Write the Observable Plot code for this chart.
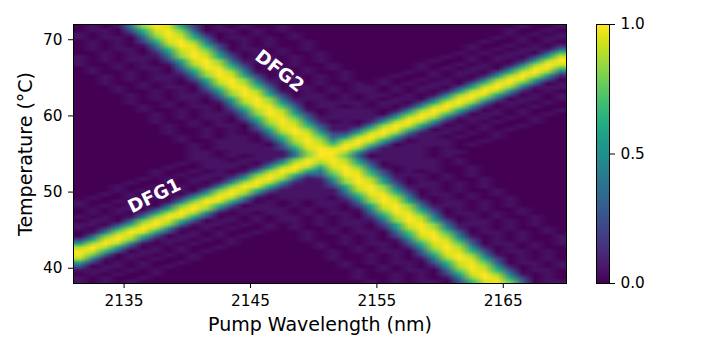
<!DOCTYPE html>
<html>
<head>
<meta charset="utf-8">
<script src="https://cdn.jsdelivr.net/npm/d3@7"></script>
<script src="https://cdn.jsdelivr.net/npm/@observablehq/plot@0.6"></script>
<style>
html,body{margin:0;padding:0;background:#fff}
#chart{position:relative;width:706px;height:353px}
#chart svg{position:absolute;left:0;top:0}
</style>
</head>
<body>
<div id="chart"></div>
<script>
const wavelengthTicks = [2135, 2145, 2155, 2165];
const temperatureTicks = [40, 50, 60, 70];
const colorTicks = [0, 0.5, 1];
const wavelengthExtent = [2131, 2170];
const temperatureExtent = [38, 72];
const labelNames = ["DFG1", "DFG2"];
const labelWavelengths = [2137.4, 2147.3];
const labelTemperatures = [49.5, 65.9];
const labelAngles = [-26, 38];
// Normalised intensity: one row per 0.5 degC (top down),
// one character per 1 nm, base-21 digits that index intensityLevels.
const intensityLevels = [0, .05, .1, .15, .2, .25, .3, .35, .4, .45, .5, .55, .6, .65, .71, .77, .83, .88, .94, .98, 1];
const intensityRows = [
"01018gkic401010010 0000000000000000 01001",
"01105dijf601101010 0000000000000000 10010",
"10102ahkha201010010 00000000000000 010101",
"101106fjid501101010 0000000000000 0101011",
"010104cikg810101001 000000000000 01001010",
"0101018gkic401010010 00000000000 10010102",
"0101105dijf601101010 0000000000 010101117",
"0010102ahkha201010010 00000000 010101106e",
"10101117gkic401101010 0000000 010101104ci",
"10101104cikg711101010 0000000 10010102ahk",
"100101019hkhb301010010 00000 100101018gki",
"010101106ejje601101010 0000 010101106ejje",
"010010103bhkh910101001 000 010101104cikg7",
"0010101117gkic401101010 00 10010102ahkha2",
"0010101104cikg711101010 0 100101018gkic40",
"00100101019hkhb301010010 10101106ejje601",
"00010101106ejje6011010 11 0101104cikg7111",
"00010010103bh kh9101010 11 010102ahkha2010",
"000010101117gk ic40110 1011 01018gk ic40101",
"000010101104ci kg7111 01010 1106ej je601101",
"0000100101019hk hb30 1111011 04ci kg7111010",
"0000010101106ej je60 1101010 2ahk ha2010100",
"0000010010103bh kh9 10111101 8gk ic40101001",
"00000010101117gk ic4 011110 6ej je601101010",
"00000010101105di jf6 11111 4ci kg711101010 0",
"00000010010102ahk ha2 010 2ahk ha201010010 0",
"000000010101106fj id5 111 8gk ic401010010 00",
"000000010010104ci kg8 11 6ej je6 01101010 000",
"0000000100101018gk ic44ci kg711101010 0000",
"0000000 01010110 5dijf6ahk ha211 010010 0000",
"00000000 1001110 2ahkhagkic4 01110010 00000",
"00000000 01011110 6fjiejje6 01111010 000000",
"00000000 01011111 4cikikg7 11110100 0000000",
"000000000 11011111 8gkkha2 11110110 0000000",
"000000000 11010111 8gkjf6 01111010 00000000",
"00000000 01110111 6fjikha2 11111010 0000000",
"0000000 01011110 4cikgjid5 01111010 0000000",
"0000000 1001110 2ahkhcikg8 10111001 0000000",
"000000 10010101 8gkic8gkic4 01010010 000000",
"00000 01010111 6fjid56ejje6 11101010 000000",
"0000 01010110 4cikg712ahkha2 01010010 00000",
"0000 1001010 2ahkha2117gkic4 01101010 00000",
"000 10010101 8gkic41114cikg7 11101010 00000",
"00 01010110 6fjid5 11111 9hkhb3 01010010 0000",
"0 01010110 4cikg7 111111 6ejje6 01101010 0000",
"01001010 3bhkh9 1011110 3bhkh9 10101001 0000",
"10010101 8gkic4 01010111 7gkic4 01101010 000",
"1010110 6fjid5 011010110 4cikg7 11101010 000",
"0101104ci kg7111 11010 1019hk hb301010010 00",
"010103bh kh91010 1101 01106ej je601101010 00",
"101018gk ic40101 0110 10103bh kh910101001 00",
"01106fj id5011010 11 0101117gk ic401101010 0",
"1104ci kg71110101 0 1010110 4ci kg711101010 0",
"103bh kh910101001 0 10010102ahk ha201010010",
"018gk ic401010010 0 010101106ej je601101010",
"06fj id501101010 00 010010104ci kg810101001",
"4ci kg711101010 0000 100101018gk ic40101001",
"bh kh910101001 00000 010101105di jf60110101",
"hk hb301010010 000000 10010102ahk ha2010100",
"j id501101010 0000000 010101106fj id5011010",
"jf601101010 00000000 010010104ci kg8101010",
"h910101001 0000000000 100101018gk ic401010",
"b30101001 00000000000 010101105di jf601101",
"50110101 0000000000000 10010102ahk ha20101",
"1110101 00000000000000 010101106fj id50110",
"0101001 00000000000000 010010104ci kg81010",
"101001 0000000000000000 100101018gk ic4010",
"10101 00000000000000000 010101105di jf6011"
];
const nCols = 39;
const nRows = intensityRows.length;
const intensity = intensityRows.flatMap(r =>
  Array.from(r.replace(/ /g, "").padEnd(nCols, "0").slice(0, nCols), c => intensityLevels[parseInt(c, 21)]));
const labels = labelNames.map((name, i) => ({name, x: labelWavelengths[i], y: labelTemperatures[i], a: labelAngles[i]}));
const font = "DejaVu Sans";

const main = Plot.plot({
  width: 706, height: 353,
  marginLeft: 73, marginRight: 140, marginTop: 24, marginBottom: 70,
  style: {fontFamily: font, background: "transparent", color: "black"},
  x: {domain: wavelengthExtent, axis: null},
  y: {domain: temperatureExtent, axis: null},
  color: {type: "linear", scheme: "viridis", domain: [0, 1]},
  marks: [
    Plot.raster(intensity, {width: nCols, height: nRows,
      x1: wavelengthExtent[0], x2: wavelengthExtent[1],
      y1: temperatureExtent[1], y2: temperatureExtent[0], fill: Plot.identity}),
    Plot.text(labels, {x: "x", y: "y", text: "name", rotate: "a", fill: "white",
      fontWeight: "bold", fontSize: 18.5, fontFamily: font}),
    Plot.frame({stroke: "black", strokeWidth: 1}),
    Plot.axisX({ticks: wavelengthTicks, tickFormat: d => String(d), tickSize: 5, tickPadding: 7,
      fontSize: 15.3, label: null, anchor: "bottom"}),
    Plot.axisY({ticks: temperatureTicks, tickSize: 5, tickPadding: 6,
      fontSize: 15.3, label: null, anchor: "left"}),
    Plot.text(["Pump Wavelength (nm)"], {frameAnchor: "bottom", dy: 47, fontSize: 19, fontFamily: font, fill: "black"}),
    Plot.text(["Temperature (°C)"], {frameAnchor: "left", textAnchor: "middle", rotate: -90, dx: -48, fontSize: 19, fontFamily: font, fill: "black"})
  ]
});

const ramp = d3.range(256).map(i => i / 255);
const bar = Plot.plot({
  width: 706, height: 353,
  marginLeft: 596, marginRight: 97, marginTop: 24, marginBottom: 70,
  style: {fontFamily: font, background: "transparent", color: "black"},
  x: {domain: [0, 1], axis: null},
  y: {domain: [0, 1], axis: null},
  color: {type: "linear", scheme: "viridis", domain: [0, 1]},
  marks: [
    Plot.raster(ramp, {width: 1, height: 256, x1: 0, x2: 1, y1: 0, y2: 1, fill: Plot.identity}),
    Plot.frame({stroke: "black", strokeWidth: 1}),
    Plot.axisY({ticks: colorTicks, tickFormat: d => d.toFixed(1), tickSize: 5, tickPadding: 6,
      fontSize: 15.3, label: null, anchor: "right"})
  ]
});

const host = document.getElementById("chart");
host.append(main, bar);
</script>
</body>
</html>
